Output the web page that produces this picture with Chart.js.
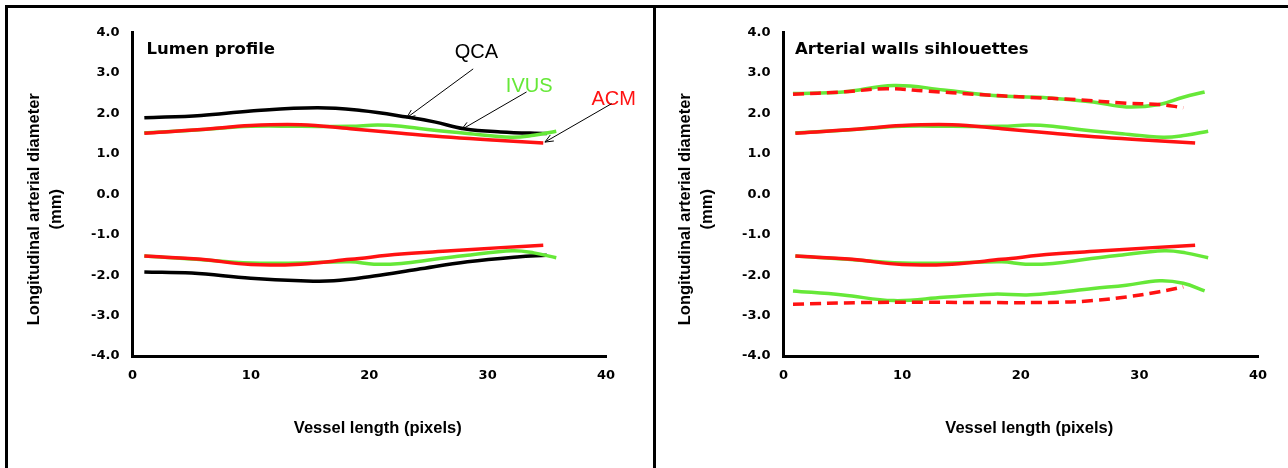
<!DOCTYPE html>
<html>
<head>
<meta charset="utf-8">
<script src="https://cdn.jsdelivr.net/npm/chart.js@4.4.1/dist/chart.umd.min.js"></script>
<style>
  html, body { margin: 0; padding: 0; background: #fff; }
  #page { position: relative; width: 1288px; height: 468px; overflow: hidden; }
  .rule { position: absolute; background: #000; }
  .cell { position: absolute; top: 8px; height: 460px; }
</style>
</head>
<body>
<div id="page">
  <div class="rule" style="left:5px; top:5px; width:1283px; height:3px"></div>
  <div class="rule" style="left:5px; top:5px; width:3px; height:463px"></div>
  <div class="rule" style="left:653px; top:5px; width:3px; height:463px"></div>
  <div class="cell" style="left:8px; width:645px"><canvas id="lumenChart"></canvas></div>
  <div class="cell" style="left:656px; width:632px"><canvas id="wallsChart"></canvas></div>
</div>
<script>
// Textos
const lumenTitle = 'Lumen profile';
const wallsTitle = 'Arterial walls sihlouettes';
const xAxisTitle = 'Vessel length (pixels)';
const yAxisTitle = ['Longitudinal arterial diameter', '(mm)'];

// QCA (negro) - perfil luminal
const qcaUpperX = [1, 5.8, 10, 15.6, 19.3, 23.2, 25.5, 28, 31.1, 35];
const qcaUpperY = [1.89, 1.95, 2.06, 2.14, 2.07, 1.91, 1.79, 1.62, 1.54, 1.50];
const qcaLowerX = [1, 5, 10, 14.2, 17, 20.4, 24, 28.3, 32.5, 35];
const qcaLowerY = [-1.92, -1.95, -2.08, -2.14, -2.14, -2.02, -1.86, -1.67, -1.55, -1.51];

// ACM (rojo) - perfil luminal
const acmX = [1, 5.8, 10, 14.2, 18.4, 22.7, 26.9, 31.1, 34.7];
const acmUpperY = [1.51, 1.60, 1.70, 1.72, 1.62, 1.51, 1.41, 1.33, 1.27];
const acmLowerY = [-1.53, -1.61, -1.74, -1.73, -1.61, -1.48, -1.40, -1.32, -1.26];

// IVUS (verde) - perfil luminal
const ivusUpperX = [1, 5, 10, 14.2, 18.4, 20.7, 22.7, 25.5, 28.3, 32, 33.9, 35.8];
const ivusUpperY = [1.52, 1.58, 1.68, 1.68, 1.68, 1.71, 1.68, 1.58, 1.50, 1.41, 1.46, 1.56];
const ivusLowerX = [1, 5, 10, 14.2, 18.4, 20.4, 22.7, 25.5, 28.3, 32.1, 33.9, 35.8];
const ivusLowerY = [-1.53, -1.60, -1.70, -1.70, -1.67, -1.73, -1.71, -1.61, -1.51, -1.40, -1.45, -1.57];

// Paredes arteriales (contorno externo)
const ivusWallUpperX = [0.8, 5, 9.3, 13.5, 17.7, 21.9, 26.1, 28.9, 31.7, 33.7, 35.5];
const ivusWallUpperY = [2.49, 2.53, 2.69, 2.58, 2.44, 2.39, 2.28, 2.16, 2.22, 2.40, 2.53];
const acmWallUpperX = [0.8, 5, 8.7, 12.1, 16.3, 20.5, 24.7, 28.9, 31.7, 33.7];
const acmWallUpperY = [2.47, 2.53, 2.61, 2.55, 2.47, 2.40, 2.34, 2.25, 2.22, 2.14];
const ivusWallLowerX = [0.8, 5, 9.3, 13.5, 17.7, 20.5, 22.4, 26.1, 28.9, 31.7, 33.7, 35.5];
const ivusWallLowerY = [-2.39, -2.49, -2.63, -2.55, -2.47, -2.49, -2.45, -2.33, -2.25, -2.14, -2.20, -2.39];
const acmWallLowerX = [0.8, 6.4, 12.1, 17.7, 23.3, 26.1, 28.9, 31.7, 33.7];
const acmWallLowerY = [-2.72, -2.68, -2.67, -2.68, -2.67, -2.63, -2.54, -2.41, -2.29];

const BLACK = '#000000';
const GREEN = '#66e838';
const RED = '#ff1212';

// Etiquetas con flecha (en unidades de datos)
const lumenNotes = [
  { text: 'QCA', color: BLACK, x: 29.05, y: 3.38, from: [28.78, 3.10], to: [23.16, 1.89] },
  { text: 'IVUS', color: GREEN, x: 33.51, y: 2.53, from: [33.29, 2.53], to: [27.80, 1.60] },
  { text: 'ACM', color: RED, x: 40.65, y: 2.20, from: [40.47, 2.24], to: [34.84, 1.29] },
];

function pts(xs, ys) {
  return xs.map((x, i) => ({ x: x, y: ys[i] }));
}

function line(xs, ys, color, dashed) {
  return {
    data: pts(xs, ys),
    borderColor: color,
    borderWidth: 3.5,
    borderDash: dashed ? [11, 6] : [],
    pointRadius: 0,
    tension: 0.4,
    fill: false,
  };
}

const tickFont = { family: 'DejaVu Sans', weight: 'bold', size: 13 };

// Textos del panel: título, títulos de ejes y flechas
const panelText = {
  id: 'panelText',
  afterDraw(chart, args, opts) {
    const { ctx, chartArea: a, scales: { x, y } } = chart;
    ctx.save();
    ctx.fillStyle = '#000';
    ctx.font = 'bold 16.5px "DejaVu Sans"';
    ctx.textAlign = 'left';
    ctx.textBaseline = 'alphabetic';
    ctx.fillText(opts.title, a.left + opts.titleDx, a.top + 21);

    ctx.font = 'bold 16.5px "Liberation Sans"';
    ctx.textAlign = 'center';
    ctx.fillText(xAxisTitle, (a.left + a.right) / 2 + 8.5, 425);

    ctx.translate(a.left - 98.5, (a.top + a.bottom) / 2 + 15);
    ctx.rotate(-Math.PI / 2);
    ctx.textBaseline = 'middle';
    ctx.fillText(yAxisTitle[0], 0, 0);
    ctx.fillText(yAxisTitle[1], 0, 22);
    ctx.restore();

    (opts.notes || []).forEach(n => {
      ctx.save();
      ctx.font = '20px "Liberation Sans"';
      ctx.fillStyle = n.color;
      ctx.textAlign = 'center';
      ctx.textBaseline = 'alphabetic';
      ctx.fillText(n.text, x.getPixelForValue(n.x), y.getPixelForValue(n.y));
      const sx = x.getPixelForValue(n.from[0]), sy = y.getPixelForValue(n.from[1]);
      const ex = x.getPixelForValue(n.to[0]), ey = y.getPixelForValue(n.to[1]);
      const ang = Math.atan2(ey - sy, ex - sx);
      ctx.strokeStyle = '#000';
      ctx.lineWidth = 1;
      ctx.beginPath();
      ctx.moveTo(sx, sy);
      ctx.lineTo(ex, ey);
      ctx.moveTo(ex - 9 * Math.cos(ang - 0.4), ey - 9 * Math.sin(ang - 0.4));
      ctx.lineTo(ex, ey);
      ctx.lineTo(ex - 9 * Math.cos(ang + 0.4), ey - 9 * Math.sin(ang + 0.4));
      ctx.stroke();
      ctx.restore();
    });
  }
};

function makeOptions(yWidth, padRight, title, titleDx, notes) {
  return {
    responsive: true,
    maintainAspectRatio: false,
    animation: false,
    layout: { padding: { left: 0, top: 24.5, right: padRight, bottom: 0 } },
    plugins: {
      legend: { display: false },
      tooltip: { enabled: false },
      panelText: { title: title, titleDx: titleDx, notes: notes },
    },
    scales: {
      x: {
        type: 'linear',
        min: 0,
        max: 40,
        ticks: { stepSize: 10, color: '#000', font: tickFont, padding: 12 },
        grid: { display: false, drawTicks: false },
        border: { display: true, color: '#000', width: 3 },
        afterFit: s => { s.height = 112; },
      },
      y: {
        min: -4,
        max: 4,
        ticks: { stepSize: 1, color: '#000', font: tickFont, padding: 13, callback: v => v.toFixed(1) },
        grid: { display: false, drawTicks: false },
        border: { display: true, color: '#000', width: 3 },
        afterFit: s => { s.width = yWidth; },
      },
    },
  };
}

document.addEventListener('DOMContentLoaded', function () {
  new Chart(document.getElementById('lumenChart').getContext('2d'), {
    type: 'line',
    data: {
      datasets: [
        line(acmX, acmUpperY, RED),
        line(acmX, acmLowerY, RED),
        line(ivusUpperX, ivusUpperY, GREEN),
        line(ivusLowerX, ivusLowerY, GREEN),
        line(qcaUpperX, qcaUpperY, BLACK),
        line(qcaLowerX, qcaLowerY, BLACK),
      ],
    },
    options: makeOptions(124.5, 47, lumenTitle, 14, lumenNotes),
    plugins: [panelText],
  });

  new Chart(document.getElementById('wallsChart').getContext('2d'), {
    type: 'line',
    data: {
      datasets: [
        line(acmX, acmUpperY, RED),
        line(acmX, acmLowerY, RED),
        line(acmWallUpperX, acmWallUpperY, RED, true),
        line(acmWallLowerX, acmWallLowerY, RED, true),
        line(ivusUpperX, ivusUpperY, GREEN),
        line(ivusLowerX, ivusLowerY, GREEN),
        line(ivusWallUpperX, ivusWallUpperY, GREEN),
        line(ivusWallLowerX, ivusWallLowerY, GREEN),
      ],
    },
    options: makeOptions(127.5, 30, wallsTitle, 11.5, []),
    plugins: [panelText],
  });
});
</script>
</body>
</html>
